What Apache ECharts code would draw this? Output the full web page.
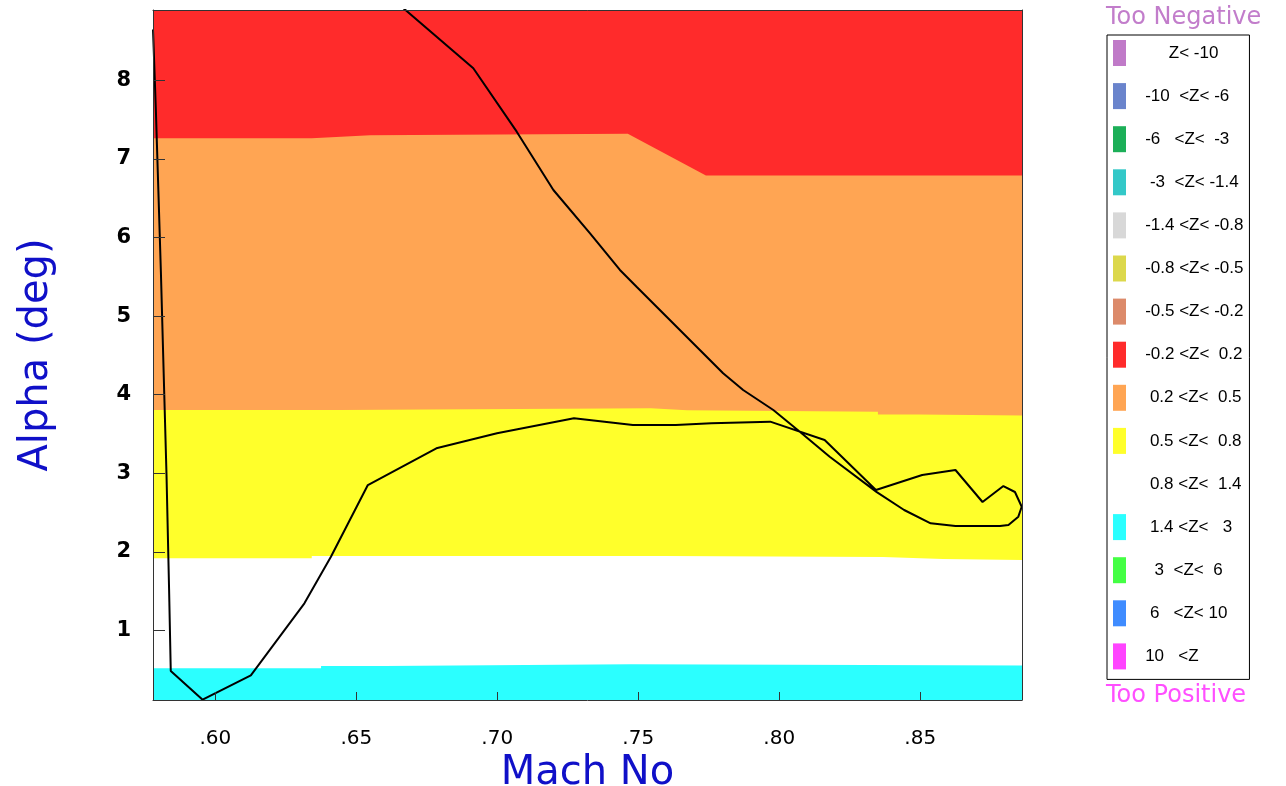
<!DOCTYPE html>
<html>
<head>
<meta charset="utf-8">
<title>Alpha vs Mach</title>
<script src="https://cdn.jsdelivr.net/npm/echarts@6/dist/echarts.min.js"></script>
<style>
  html, body { margin: 0; padding: 0; background: #fff; }
  #chart { width: 1286px; height: 786px; }
</style>
</head>
<body>
<div id="chart"></div>
<script>
// axis ranges and ticks
var machMin = 0.5779, machMax = 0.8861;
var alphaMin = 0.116, alphaMax = 8.894;
var machTicks = [0.60, 0.65, 0.70, 0.75, 0.80, 0.85];
var alphaTicks = [1, 2, 3, 4, 5, 6, 7, 8];

// upper edges of the coloured Z bands [mach, alpha]
var redTop = [[0.5779, 8.894], [0.8861, 8.894]];
var orangeTop = [[0.5779, 7.262], [0.6342, 7.262], [0.6342, 7.28], [0.6446, 7.28], [0.6446, 7.30],
  [0.6549, 7.30], [0.6549, 7.32], [0.7463, 7.32], [0.774, 6.789], [0.8861, 6.789]];
var yellowTop = [[0.5779, 3.805], [0.6446, 3.805], [0.6446, 3.827], [0.7545, 3.827], [0.7545, 3.803],
  [0.7673, 3.803], [0.7673, 3.782], [0.835, 3.782], [0.835, 3.748], [0.8492, 3.748], [0.8492, 3.735], [0.8861, 3.735]];
var whiteTop = [[0.5779, 1.919], [0.6342, 1.919], [0.6342, 1.948], [0.7598, 1.948], [0.7598, 1.935],
  [0.8368, 1.935], [0.8368, 1.91], [0.858, 1.91], [0.858, 1.897], [0.8861, 1.897]];
var cyanTop = [[0.5779, 0.519], [0.6375, 0.519], [0.6375, 0.55], [0.6604, 0.55], [0.6604, 0.572],
  [0.7474, 0.572], [0.7474, 0.556], [0.8861, 0.556]];

// the flight path (mach, alpha), in drawing order
var alphaPath = [[0.5779, 8.646], [0.5789, 7.64], [0.5798, 6.60], [0.5807, 5.56], [0.5819, 4.00],
  [0.5827, 2.97], [0.5836, 1.53], [0.5842, 0.485], [0.5955, 0.12], [0.6126, 0.43], [0.6316, 1.346],
  [0.6410, 1.939], [0.6541, 2.851], [0.6784, 3.318], [0.6999, 3.509], [0.7272, 3.700], [0.7481, 3.615],
  [0.7633, 3.615], [0.7759, 3.636], [0.7968, 3.657], [0.8161, 3.424], [0.8343, 2.788], [0.8507, 2.978],
  [0.8625, 3.042], [0.8721, 2.635], [0.8795, 2.838], [0.8836, 2.762], [0.8860, 2.575], [0.8848, 2.448],
  [0.8813, 2.342], [0.8783, 2.329], [0.8625, 2.329], [0.8537, 2.364], [0.8443, 2.533], [0.8346, 2.760],
  [0.8179, 3.211], [0.8073, 3.529], [0.7979, 3.805], [0.7872, 4.060], [0.7801, 4.272], [0.7636, 4.865],
  [0.7494, 5.374], [0.7435, 5.587], [0.7329, 6.053], [0.7199, 6.604], [0.7069, 7.346], [0.6915, 8.153],
  [0.6640, 9.0]];

// legend categories
var zNames = ['Z< -10', '-10 <Z< -6', '-6 <Z< -3', '-3 <Z< -1.4', '-1.4 <Z< -0.8', '-0.8 <Z< -0.5',
  '-0.5 <Z< -0.2', '-0.2 <Z< 0.2', '0.2 <Z< 0.5', '0.5 <Z< 0.8', '0.8 <Z< 1.4', '1.4 <Z< 3',
  '3 <Z< 6', '6 <Z< 10', '10 <Z'];
var zLabels = ['     Z< -10', '-10  <Z< -6', '-6   <Z<  -3', ' -3  <Z< -1.4', '-1.4 <Z< -0.8',
  '-0.8 <Z< -0.5', '-0.5 <Z< -0.2', '-0.2 <Z<  0.2', ' 0.2 <Z<  0.5', ' 0.5 <Z<  0.8', ' 0.8 <Z<  1.4',
  ' 1.4 <Z<   3', '  3  <Z<  6', ' 6   <Z< 10', '10   <Z'];
var zColors = ['#c07ac8', '#6a84cc', '#1caf58', '#33c8c8', '#d8d8d8', '#dcd84c', '#dc8a6a',
  '#ff2b2b', '#ffa553', '#ffff2b', '#ffffff', '#2bffff', '#44ff44', '#3f8cff', '#ff44ff'];

var dom = document.getElementById('chart');
var myChart = echarts.init(dom);

function band(idx, data) {
    return {
        name: zNames[idx],
        type: 'line',
        data: data,
        symbol: 'none',
        silent: true,
        itemStyle: {color: zColors[idx]},
        lineStyle: {width: 0, color: zColors[idx]},
        areaStyle: {color: zColors[idx], opacity: 1, origin: 'start'}
    };
}

var series = [
    band(7, redTop),
    band(8, orangeTop),
    band(9, yellowTop),
    band(10, whiteTop),
    band(11, cyanTop)
];
// legend-only entries for the classes not present on the map
zNames.forEach(function (n, i) {
    if (i < 7 || i > 11) {
        series.push({
            name: n, type: 'line', data: [], symbol: 'none',
            itemStyle: {color: zColors[i]}, lineStyle: {color: zColors[i]}
        });
    }
});
series.push({
    name: 'path',
    type: 'line',
    data: alphaPath,
    symbol: 'none',
    clip: true,
    z: 5,
    lineStyle: {color: '#000', width: 2}
});

var labelMap = {};
zNames.forEach(function (n, i) { labelMap[n] = zLabels[i]; });

var axisName = {color: '#1010c8', fontSize: 40, fontFamily: 'DejaVu Sans'};

option = {
    animation: false,
    backgroundColor: '#fff',
    title: [
        {text: 'Too Negative', left: 1106, top: 6, padding: 0,
         textStyle: {color: '#c27dcb', fontSize: 24, fontWeight: 'normal', fontFamily: 'DejaVu Sans'}},
        {text: 'Too Positive', left: 1106, top: 684, padding: 0,
         textStyle: {color: '#ff4fff', fontSize: 24, fontWeight: 'normal', fontFamily: 'DejaVu Sans'}}
    ],
    legend: {
        orient: 'vertical',
        left: 1107,
        top: 35,
        padding: [5, 6, 10, 6],
        icon: 'rect',
        itemWidth: 13,
        itemHeight: 26,
        itemGap: 17.1,
        borderColor: '#000',
        borderWidth: 1,
        selectedMode: false,
        data: zNames,
        formatter: function (name) { return '   ' + labelMap[name]; },
        textStyle: {color: '#000', fontSize: 17, fontFamily: 'Liberation Sans'}
    },
    grid: {left: 153, top: 10, width: 869, height: 690, outerBoundsMode: 'none'},
    xAxis: [{
        type: 'value',
        min: machMin,
        max: machMax,
        position: 'bottom',
        name: 'Mach No',
        nameLocation: 'middle',
        nameGap: 49,
        nameTextStyle: axisName,
        z: 10,
        axisLine: {show: true, onZero: false, lineStyle: {color: '#333', width: 1}},
        axisTick: {show: true, inside: true, length: 8, customValues: machTicks, lineStyle: {color: '#333'}},
        axisLabel: {
            customValues: machTicks,
            margin: 29,
            color: '#000',
            fontSize: 20,
            fontFamily: 'DejaVu Sans',
            formatter: function (v) { return v.toFixed(2).replace(/^0/, ''); }
        },
        splitLine: {show: false}
    }, {
        type: 'value',
        min: machMin,
        max: machMax,
        position: 'top',
        z: 10,
        axisLine: {show: true, onZero: false, lineStyle: {color: '#333', width: 1}},
        axisTick: {show: false},
        axisLabel: {show: false},
        splitLine: {show: false}
    }],
    yAxis: [{
        type: 'value',
        min: alphaMin,
        max: alphaMax,
        position: 'left',
        name: 'Alpha (deg)',
        nameLocation: 'middle',
        nameGap: 96,
        nameTextStyle: axisName,
        z: 10,
        axisLine: {show: true, onZero: false, lineStyle: {color: '#333', width: 1}},
        axisTick: {show: true, inside: true, length: 12, customValues: alphaTicks, lineStyle: {color: '#333'}},
        axisLabel: {
            customValues: alphaTicks,
            margin: 22,
            color: '#000',
            fontSize: 21,
            fontWeight: 'bold',
            fontFamily: 'DejaVu Sans'
        },
        splitLine: {show: false}
    }, {
        type: 'value',
        min: alphaMin,
        max: alphaMax,
        position: 'right',
        z: 10,
        axisLine: {show: true, onZero: false, lineStyle: {color: '#333', width: 1}},
        axisTick: {show: false},
        axisLabel: {show: false},
        splitLine: {show: false}
    }],
    series: series
};

if (option && typeof option === 'object') {
    myChart.setOption(option, true);
}
</script>
</body>
</html>
